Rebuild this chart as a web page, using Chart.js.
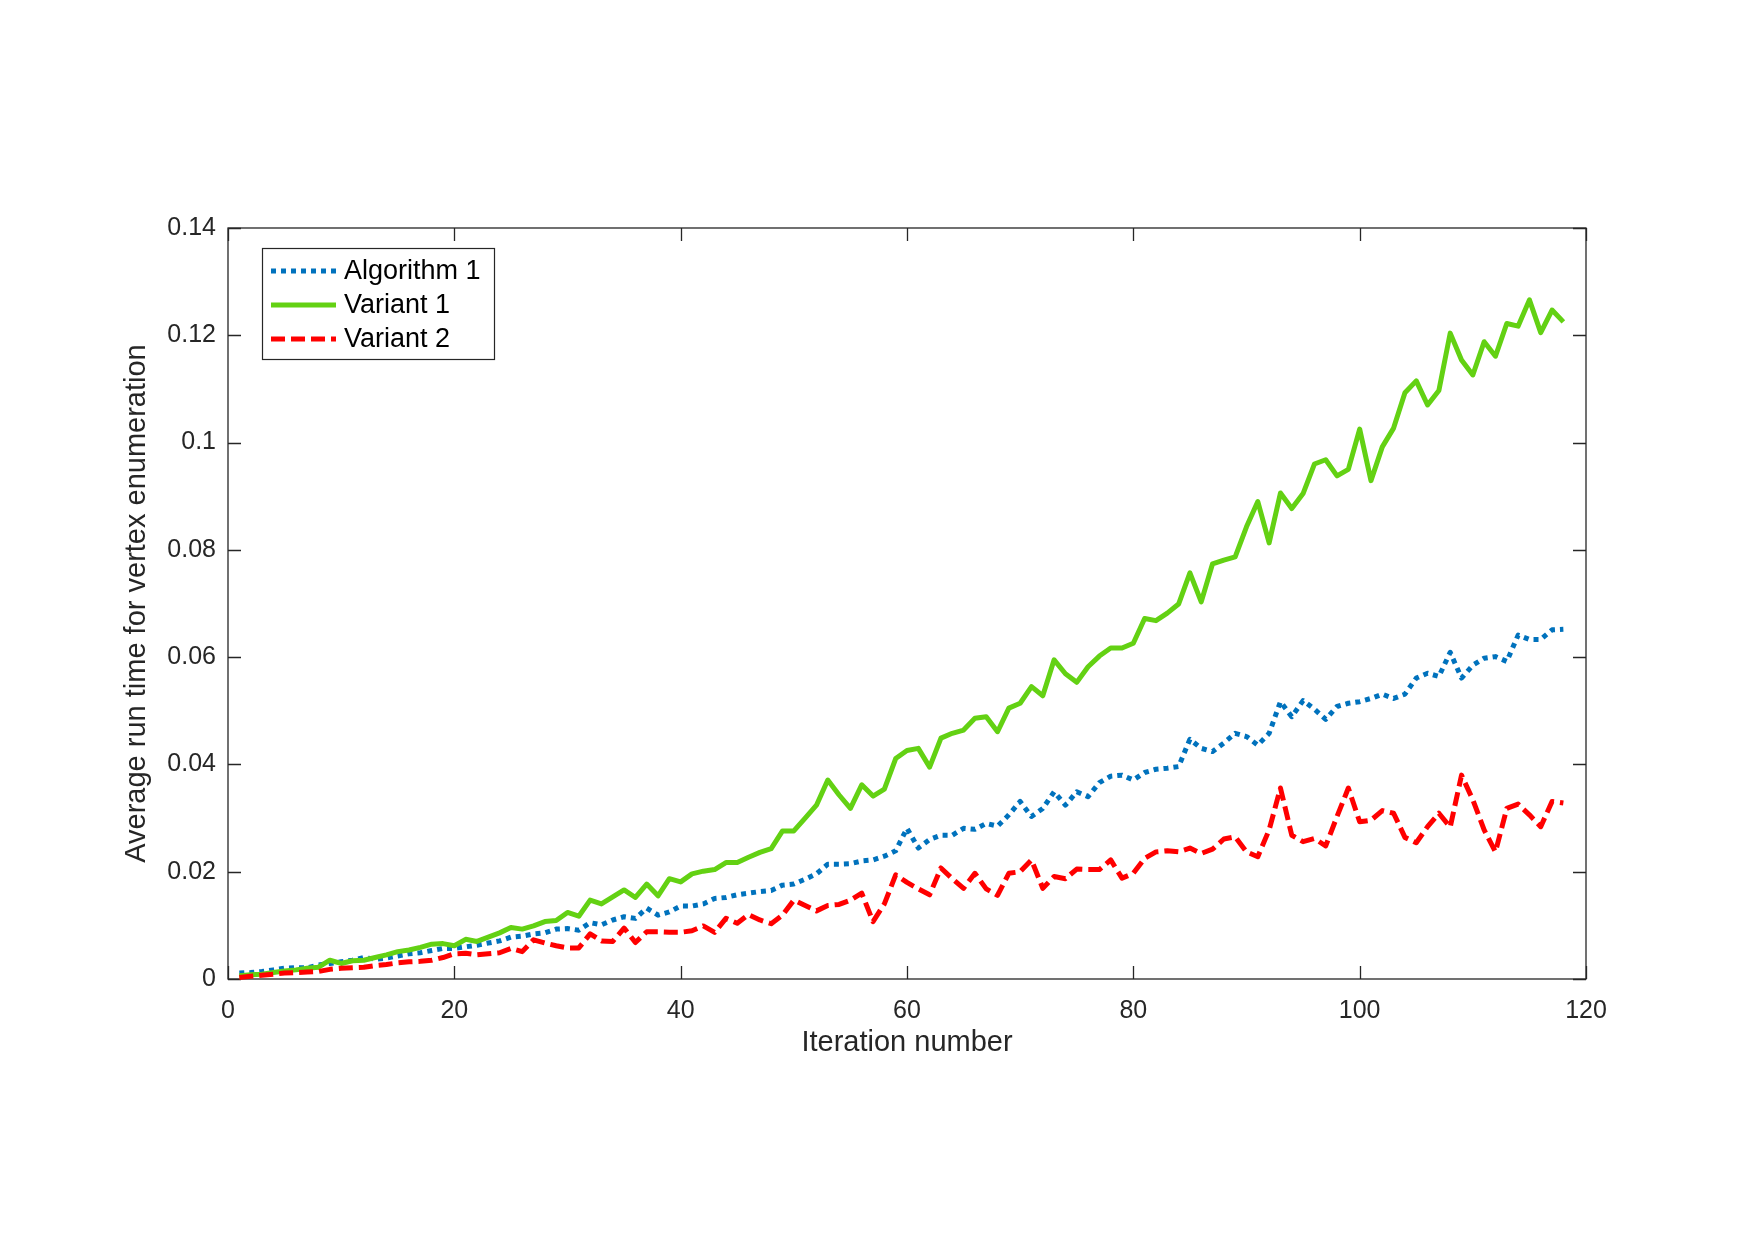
<!DOCTYPE html>
<html>
<head>
<meta charset="utf-8">
<script src="https://cdn.jsdelivr.net/npm/chart.js@4.4.1/dist/chart.umd.min.js"></script>
<style>
    html, body { margin: 0; padding: 0; background: #fff; }
    canvas { display: block; }
</style>
</head>
<body>
<canvas id="myChart" width="1755" height="1240"></canvas>
<script>
'use strict'

// iteration index 1..118 (x categories)
const iterations = Array.from({length: 118}, (v, i) => i + 1);

const algorithm1 = [
    0.0011, 0.0012, 0.0014, 0.0017, 0.0020, 0.0021, 0.0021, 0.0026, 0.0029, 0.0032,
    0.0035, 0.0040, 0.0037, 0.0039, 0.0043, 0.0047, 0.0049, 0.0053, 0.0057, 0.0057,
    0.0060, 0.0063, 0.0067, 0.0071, 0.0078, 0.0080, 0.0084, 0.0086, 0.0093, 0.0094,
    0.0091, 0.0105, 0.0101, 0.0110, 0.0116, 0.0113, 0.0132, 0.0119, 0.0125, 0.0136,
    0.0136, 0.0140, 0.0150, 0.0152, 0.0157, 0.0160, 0.0163, 0.0165, 0.0175, 0.0177,
    0.0186, 0.0196, 0.0214, 0.0214, 0.0215, 0.0220, 0.0222, 0.0229, 0.0239, 0.0281,
    0.0244, 0.0260, 0.0268, 0.0268, 0.0281, 0.0279, 0.0290, 0.0285, 0.0306, 0.0331,
    0.0303, 0.0318, 0.0349, 0.0324, 0.0349, 0.0340, 0.0366, 0.0378, 0.0380, 0.0371,
    0.0385, 0.0391, 0.0393, 0.0396, 0.0447, 0.0430, 0.0424, 0.0440, 0.0458, 0.0452,
    0.0436, 0.0458, 0.0517, 0.0489, 0.0519, 0.0503, 0.0484, 0.0508, 0.0514, 0.0517,
    0.0523, 0.0531, 0.0523, 0.0531, 0.0561, 0.0570, 0.0564, 0.0609, 0.0561, 0.0585,
    0.0598, 0.0601, 0.0592, 0.0641, 0.0633, 0.0633, 0.0651, 0.0652
];

const variant1 = [
    0.0006, 0.0008, 0.0009, 0.0012, 0.0015, 0.0017, 0.0020, 0.0022, 0.0035, 0.0029,
    0.0034, 0.0035, 0.0040, 0.0045, 0.0051, 0.0054, 0.0059, 0.0065, 0.0066, 0.0062,
    0.0074, 0.0070, 0.0078, 0.0086, 0.0096, 0.0093, 0.0099, 0.0107, 0.0109, 0.0124,
    0.0117, 0.0147, 0.0140, 0.0153, 0.0166, 0.0152, 0.0177, 0.0155, 0.0187, 0.0181,
    0.0196, 0.0201, 0.0204, 0.0217, 0.0217, 0.0227, 0.0236, 0.0243, 0.0276, 0.0276,
    0.0300, 0.0324, 0.0371, 0.0343, 0.0318, 0.0362, 0.0341, 0.0354, 0.0411, 0.0426,
    0.0430, 0.0395, 0.0449, 0.0458, 0.0464, 0.0486, 0.0489, 0.0461, 0.0505, 0.0514,
    0.0545, 0.0528, 0.0595, 0.0569, 0.0553, 0.0582, 0.0602, 0.0617, 0.0617, 0.0626,
    0.0672, 0.0668, 0.0682, 0.0699, 0.0757, 0.0703, 0.0774, 0.0781, 0.0787, 0.0843,
    0.0890, 0.0813, 0.0906, 0.0877, 0.0905, 0.0960, 0.0968, 0.0938, 0.0950, 0.1025,
    0.0929, 0.0992, 0.1027, 0.1093, 0.1115, 0.1070, 0.1097, 0.1204, 0.1154, 0.1126,
    0.1188, 0.1161, 0.1222, 0.1217, 0.1266, 0.1205, 0.1247, 0.1225
];

const variant2 = [
    0.0003, 0.0005, 0.0007, 0.0009, 0.0011, 0.0012, 0.0013, 0.0014, 0.0018, 0.0020,
    0.0021, 0.0022, 0.0025, 0.0027, 0.0030, 0.0032, 0.0033, 0.0035, 0.0040, 0.0047,
    0.0048, 0.0045, 0.0047, 0.0049, 0.0057, 0.0051, 0.0073, 0.0067, 0.0062, 0.0058,
    0.0058, 0.0084, 0.0071, 0.0070, 0.0095, 0.0068, 0.0088, 0.0088, 0.0087, 0.0087,
    0.0090, 0.0099, 0.0087, 0.0113, 0.0104, 0.0120, 0.0110, 0.0103, 0.0119, 0.0147,
    0.0137, 0.0127, 0.0137, 0.0139, 0.0147, 0.0160, 0.0107, 0.0140, 0.0194, 0.0180,
    0.0168, 0.0157, 0.0207, 0.0187, 0.0169, 0.0197, 0.0168, 0.0156, 0.0197, 0.0200,
    0.0222, 0.0169, 0.0191, 0.0187, 0.0205, 0.0204, 0.0204, 0.0222, 0.0188, 0.0197,
    0.0225, 0.0237, 0.0239, 0.0237, 0.0244, 0.0234, 0.0242, 0.0261, 0.0265, 0.0237,
    0.0228, 0.0278, 0.0356, 0.0268, 0.0256, 0.0262, 0.0248, 0.0303, 0.0356, 0.0293,
    0.0296, 0.0314, 0.0309, 0.0264, 0.0254, 0.0284, 0.0309, 0.0283, 0.0380, 0.0334,
    0.0278, 0.0237, 0.0318, 0.0326, 0.0306, 0.0284, 0.0331, 0.0328
];

const seriesNames = ['Algorithm 1', 'Variant 1', 'Variant 2'];
const xTicks = [0, 20, 40, 60, 80, 100, 120];
const xTickLabels = ['0', '20', '40', '60', '80', '100', '120'];
const yTicks = [0, 0.02, 0.04, 0.06, 0.08, 0.1, 0.12, 0.14];
const yTickLabels = ['0', '0.02', '0.04', '0.06', '0.08', '0.1', '0.12', '0.14'];
const xTitle = 'Iteration number';
const yTitle = 'Average run time for vertex enumeration';

const FONT = "'Liberation Sans', Arial, Helvetica, sans-serif";
const axisColor = '#262626';
const colors = ['#0072BD', '#63D113', '#FF0000'];
const dashes = [[5, 5], [], [14, 6]];
const lineWidth = 5;
const tickLen = 13;

function toPoints(values) {
    return iterations.map((it, i) => ({x: it, y: values[i]}));
}

function nearestLabel(ticks, labels, value) {
    let best = 0;
    for (let i = 1; i < ticks.length; i++) {
        if (Math.abs(ticks[i] - value) < Math.abs(ticks[best] - value)) best = i;
    }
    return labels[best];
}

// box round the axes with inward ticks on all four sides
const axesBox = {
    id: 'axesBox',
    beforeDatasetsDraw(chart) {
        const {ctx, chartArea: a, scales: {x, y}} = chart;
        ctx.save();
        ctx.strokeStyle = axisColor;
        ctx.lineWidth = 1.3;
        ctx.strokeRect(a.left, a.top, a.right - a.left, a.bottom - a.top);
        ctx.beginPath();
        for (let v of xTicks) {
            const px = Math.round(x.getPixelForValue(v)) + 0.5;
            ctx.moveTo(px, a.bottom); ctx.lineTo(px, a.bottom - tickLen);
            ctx.moveTo(px, a.top); ctx.lineTo(px, a.top + tickLen);
        }
        for (let v of yTicks) {
            const py = Math.round(y.getPixelForValue(v)) + 0.5;
            ctx.moveTo(a.left, py); ctx.lineTo(a.left + tickLen, py);
            ctx.moveTo(a.right, py); ctx.lineTo(a.right - tickLen, py);
        }
        ctx.stroke();
        ctx.restore();
    }
};

// legend box in the upper left corner of the axes
const insideLegend = {
    id: 'insideLegend',
    afterDatasetsDraw(chart) {
        const {ctx, chartArea: a} = chart;
        const left = a.left + 34, top = a.top + 20, w = 232, h = 111;
        ctx.save();
        ctx.fillStyle = '#fff';
        ctx.fillRect(left, top, w, h);
        ctx.strokeStyle = axisColor;
        ctx.lineWidth = 1.2;
        ctx.strokeRect(left + 0.5, top + 0.5, w, h);
        ctx.font = '27px ' + FONT;
        ctx.textBaseline = 'middle';
        ctx.textAlign = 'left';
        seriesNames.forEach((name, i) => {
            const cy = top + 23 + i * 34;
            ctx.strokeStyle = colors[i];
            ctx.lineWidth = lineWidth;
            ctx.setLineDash(dashes[i]);
            ctx.beginPath();
            ctx.moveTo(left + 9, cy);
            ctx.lineTo(left + 74, cy);
            ctx.stroke();
            ctx.setLineDash([]);
            ctx.fillStyle = '#000';
            ctx.fillText(name, left + 82, cy + 1);
        });
        ctx.restore();
    }
};

function chartConfig() {
    const series = [algorithm1, variant1, variant2];
    return {
        type: 'line',
        data: {
            datasets: series.map((s, i) => ({
                label: seriesNames[i],
                data: toPoints(s),
                borderColor: colors[i],
                borderWidth: lineWidth,
                borderDash: dashes[i],
                borderCapStyle: 'butt',
                borderJoinStyle: 'round',
                pointRadius: 0,
                fill: false,
                tension: 0,
                clip: false,
                order: 3 - i
            }))
        },
        options: {
            responsive: false,
            animation: false,
            devicePixelRatio: 1,
            layout: {padding: {top: 228, right: 169, left: 0, bottom: 0}},
            plugins: {
                legend: {display: false},
                tooltip: {enabled: false}
            },
            scales: {
                x: {
                    type: 'linear',
                    min: 0,
                    max: 120,
                    grid: {display: false, drawTicks: false},
                    border: {display: false},
                    afterBuildTicks: (scale) => { scale.ticks = xTicks.map(v => ({value: v})); },
                    afterFit: (scale) => { scale.height = 261; },
                    ticks: {
                        padding: 17,
                        color: '#262626',
                        font: {family: FONT, size: 25},
                        maxRotation: 0,
                        callback: (v) => nearestLabel(xTicks, xTickLabels, v)
                    },
                    title: {
                        display: true,
                        text: xTitle,
                        color: '#262626',
                        font: {family: FONT, size: 29},
                        padding: {top: 0, bottom: 180}
                    }
                },
                y: {
                    type: 'linear',
                    min: 0,
                    max: 0.14,
                    grid: {display: false, drawTicks: false},
                    border: {display: false},
                    afterBuildTicks: (scale) => { scale.ticks = yTicks.map(v => ({value: v})); },
                    afterFit: (scale) => { scale.width = 228; },
                    ticks: {
                        padding: 12,
                        color: '#262626',
                        font: {family: FONT, size: 25},
                        callback: (v) => nearestLabel(yTicks, yTickLabels, v)
                    },
                    title: {
                        display: true,
                        text: yTitle,
                        color: '#262626',
                        font: {family: FONT, size: 29},
                        padding: {top: 120, bottom: 0}
                    }
                }
            }
        },
        plugins: [axesBox, insideLegend]
    };
}

const ctx = document.getElementById('myChart').getContext('2d');
const myChart = new Chart(ctx, chartConfig());
</script>
</body>
</html>
